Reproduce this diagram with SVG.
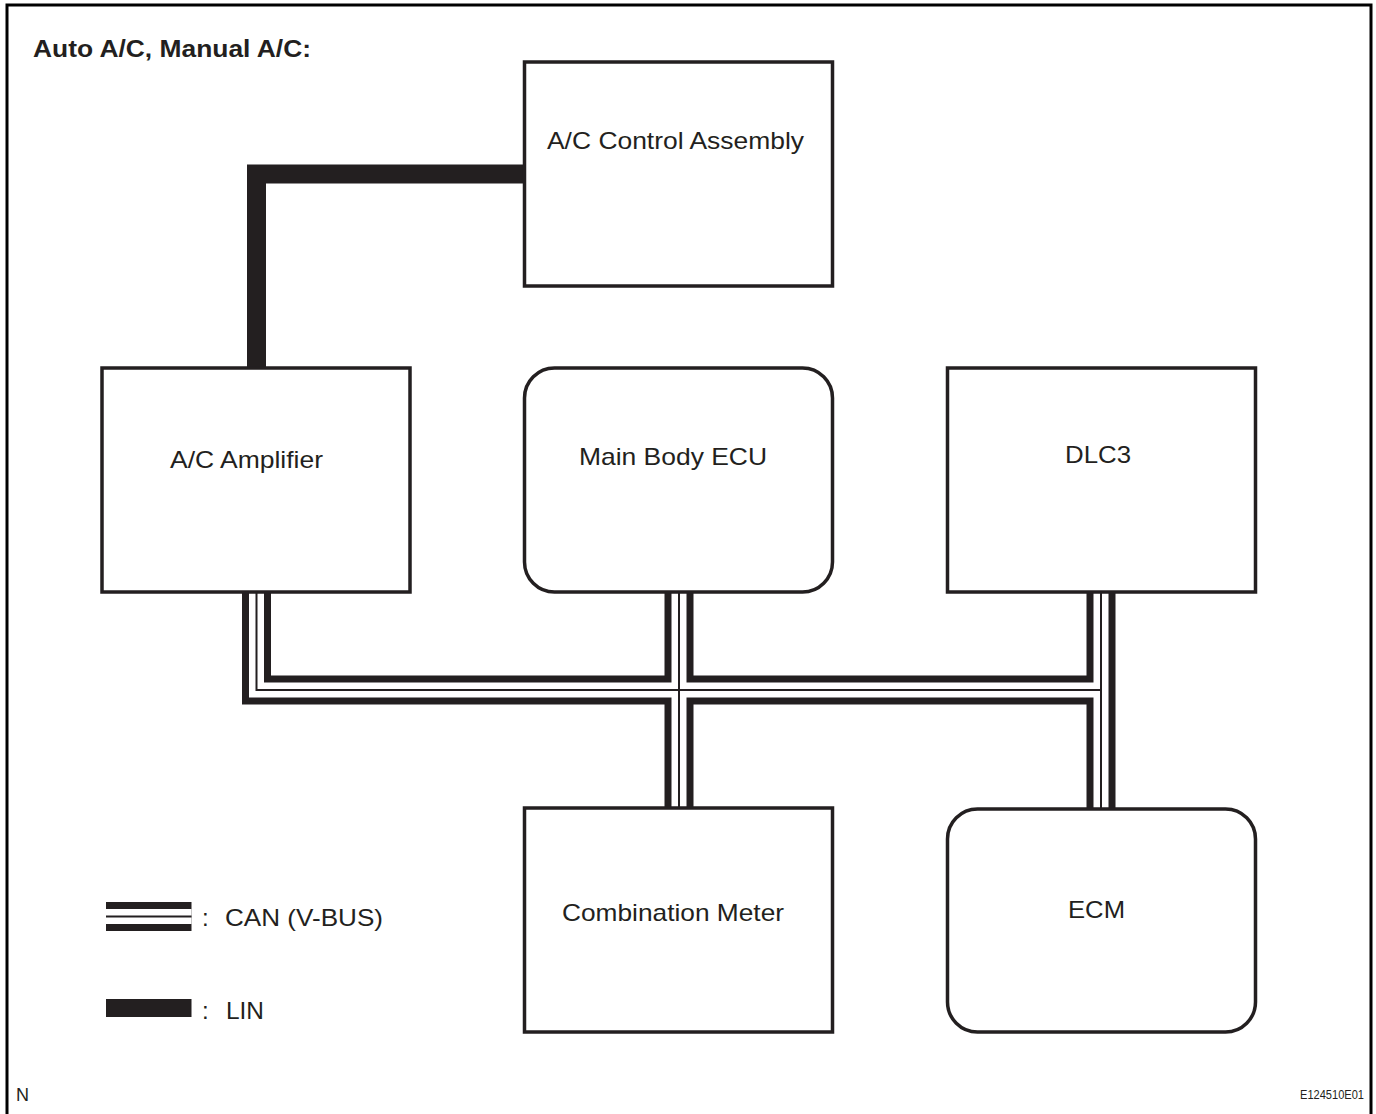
<svg xmlns="http://www.w3.org/2000/svg" width="1376" height="1114" viewBox="0 0 1376 1114">
<style>
.box{fill:#fff;stroke:#231f20;stroke-width:3.5}
.lbl{font-family:"Liberation Sans",Arial,sans-serif;font-size:24px;fill:#231f20}
.ttl{font-family:"Liberation Sans",Arial,sans-serif;font-size:24px;font-weight:bold;fill:#231f20}
.can1{fill:none;stroke:#231f20;stroke-width:29;stroke-linejoin:miter}
.can2{fill:none;stroke:#fff;stroke-width:15;stroke-linejoin:miter}
.can3{fill:none;stroke:#231f20;stroke-width:2;stroke-linejoin:miter}
.lin{fill:none;stroke:#231f20;stroke-width:19;stroke-linejoin:miter}
</style>
<defs>
<path id="p1" d="M256.5,592 V690 H1101"/>
<path id="p2" d="M679,592 V808"/>
<path id="p3" d="M1101,592 V809"/>
</defs>
<rect width="1376" height="1114" fill="#fff"/>
<path d="M7,1114 V5 H1371 V1114" fill="none" stroke="#000" stroke-width="3"/>
<text class="ttl" x="33" y="57" textLength="278" lengthAdjust="spacingAndGlyphs">Auto A/C, Manual A/C:</text>
<g id="connectors">
<path class="lin" d="M256.5,368 V174 H524.5"/>
<use href="#p1" class="can1"/><use href="#p2" class="can1"/><use href="#p3" class="can1"/>
<use href="#p1" class="can2"/><use href="#p2" class="can2"/><use href="#p3" class="can2"/>
<use href="#p1" class="can3"/><use href="#p2" class="can3"/><use href="#p3" class="can3"/>
</g>
<g id="ac-control">
<rect class="box" x="524.5" y="62" width="308" height="224"/>
<text class="lbl" x="547" y="149" textLength="257" lengthAdjust="spacingAndGlyphs">A/C Control Assembly</text>
</g>
<g id="ac-amplifier">
<rect class="box" x="102" y="368" width="308" height="224"/>
<text class="lbl" x="170" y="468" textLength="153" lengthAdjust="spacingAndGlyphs">A/C Amplifier</text>
</g>
<g id="main-body-ecu">
<rect class="box" x="524.5" y="368" width="308" height="224" rx="30"/>
<text class="lbl" x="579" y="465" textLength="188" lengthAdjust="spacingAndGlyphs">Main Body ECU</text>
</g>
<g id="dlc3">
<rect class="box" x="947.5" y="368" width="308" height="224"/>
<text class="lbl" x="1065" y="463" textLength="66" lengthAdjust="spacingAndGlyphs">DLC3</text>
</g>
<g id="combination-meter">
<rect class="box" x="524.5" y="808" width="308" height="224"/>
<text class="lbl" x="562" y="921" textLength="222" lengthAdjust="spacingAndGlyphs">Combination Meter</text>
</g>
<g id="ecm">
<rect class="box" x="947.5" y="809" width="308" height="223" rx="30"/>
<text class="lbl" x="1068" y="918" textLength="57" lengthAdjust="spacingAndGlyphs">ECM</text>
</g>
<g id="legend">
<path class="can1" d="M106,916.5 H191.5"/>
<path class="can2" d="M106,916.5 H191.5"/>
<path class="can3" d="M106,916.5 H191.5"/>
<text class="lbl" x="202" y="926">:</text>
<text class="lbl" x="225" y="926" textLength="158" lengthAdjust="spacingAndGlyphs">CAN (V-BUS)</text>
<path d="M106,1008 H191.5" fill="none" stroke="#231f20" stroke-width="18"/>
<text class="lbl" x="202" y="1019">:</text>
<text class="lbl" x="226" y="1019" textLength="38" lengthAdjust="spacingAndGlyphs">LIN</text>
</g>
<text x="16" y="1101" style="font-family:'Liberation Sans',Arial,sans-serif;font-size:18px;fill:#231f20">N</text>
<text x="1300" y="1099" textLength="64" lengthAdjust="spacingAndGlyphs" style="font-family:'Liberation Sans',Arial,sans-serif;font-size:12px;fill:#231f20">E124510E01</text>
</svg>
